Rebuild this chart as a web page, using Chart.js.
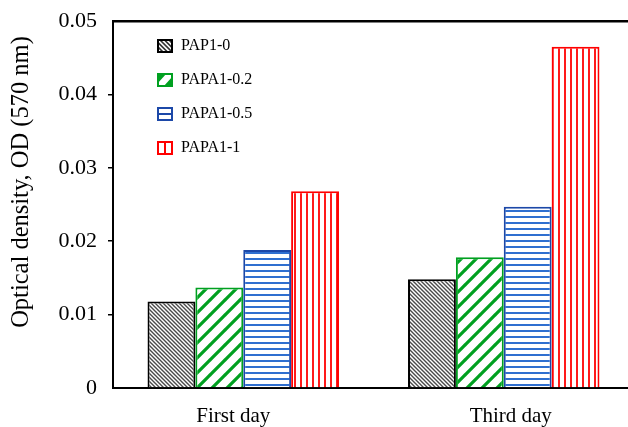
<!DOCTYPE html>
<html>
<head>
<meta charset="utf-8">
<script src="https://cdn.jsdelivr.net/npm/chart.js@4.4.1/dist/chart.umd.min.js"></script>
<style>
  html, body { margin: 0; padding: 0; background: #fff; overflow: hidden; width: 628px; height: 427px; }
  #wrap { position: relative; width: 634px; height: 427px; }
</style>
</head>
<body>
<div id="wrap"><canvas id="chart" width="634" height="427"></canvas></div>
<script>
// Optical density at 570 nm for each sample, per day
const categories = ['First day', 'Third day'];
const seriesNames = ['PAP1-0', 'PAPA1-0.2', 'PAPA1-0.5', 'PAPA1-1'];
const pap1_0   = [0.0118, 0.0148];
const papa1_02 = [0.0137, 0.0178];
const papa1_05 = [0.0188, 0.0247];
const papa1_1  = [0.0268, 0.0465];
const yTickLabels = ['0', '0.01', '0.02', '0.03', '0.04', '0.05'];
const yTitle = 'Optical density, OD (570 nm)';

const SERIF = '"Liberation Serif", "Times New Roman", serif';

// ---- hatch patterns ----
function tile(w, h, paint) {
  const c = document.createElement('canvas');
  c.width = w; c.height = h;
  const g = c.getContext('2d');
  g.fillStyle = '#fff';
  g.fillRect(0, 0, w, h);
  paint(g, w, h);
  return c;
}
function diagLines(g, s, color, lw, dir) {
  g.strokeStyle = color; g.lineWidth = lw; g.lineCap = 'square';
  g.beginPath();
  for (const off of [-s, 0, s]) {
    if (dir === 'back') { g.moveTo(off, 0); g.lineTo(off + s, s); }
    else { g.moveTo(off, s); g.lineTo(off + s, 0); }
  }
  g.stroke();
}
const tiles = [
  tile(4, 4, (g, w) => diagLines(g, w, '#4a4a4a', 1.4, 'back')),
  tile(15, 15, (g, w) => diagLines(g, w, '#00a020', 3.2, 'fwd')),
  tile(6, 6, (g, w) => { g.fillStyle = '#2f6fd0'; g.fillRect(0, 0, w, 2); }),
  tile(6, 6, (g, w, h) => { g.fillStyle = '#ff1a1a'; g.fillRect(0, 0, 2, h); })
];
const probe = document.createElement('canvas').getContext('2d');
const fills = tiles.map(t => probe.createPattern(t, 'repeat'));

const borders = ['#000000', '#00a020', '#1c48a8', '#ff0000'];

// ---- legend swatches ----
function swatch(i) {
  const w = 16, h = 14;
  const c = document.createElement('canvas');
  c.width = w; c.height = h;
  const g = c.getContext('2d');
  g.fillStyle = '#fff';
  g.fillRect(0, 0, w, h);
  if (i === 0) {
    g.strokeStyle = '#333'; g.lineWidth = 1.6; g.beginPath();
    for (let o = -16; o <= 16; o += 4.5) { g.moveTo(o, 0); g.lineTo(o + h, h); }
    g.stroke();
  } else if (i === 1) {
    g.fillStyle = '#00a020';
    g.beginPath(); g.moveTo(0, 0); g.lineTo(10, 0); g.lineTo(0, 11); g.closePath(); g.fill();
    g.beginPath(); g.moveTo(w, h); g.lineTo(6, h); g.lineTo(w, 3); g.closePath(); g.fill();
  } else if (i === 2) {
    g.fillStyle = '#1c48a8'; g.fillRect(0, 6, w, 2);
  } else {
    g.fillStyle = '#ff0000'; g.fillRect(7, 0, 2, h);
  }
  g.strokeStyle = borders[i]; g.lineWidth = 2;
  g.strokeRect(1, 1, w - 2, h - 2);
  return c;
}
const swatches = [0, 1, 2, 3].map(swatch);

// place the legend column inside the plot, near its top-left corner
const legendNudge = {
  id: 'legendNudge',
  afterLayout(chart) {
    const l = chart.legend, a = chart.chartArea;
    if (l) { l.left = a.left + 26; l.top = a.top - 1; l.bottom = a.bottom; }
  }
};

// rotated y-axis title and the day labels under each group
const labelShift = [-10, 7];
const axisText = {
  id: 'axisText',
  afterDraw(chart) {
    const g = chart.ctx;
    g.save();
    g.fillStyle = '#000';
    g.font = '21px ' + SERIF;
    g.textAlign = 'center';
    g.textBaseline = 'alphabetic';
    const xs = chart.scales.x;
    categories.forEach((name, i) => {
      g.fillText(name, xs.getPixelForTick(i) + labelShift[i], xs.top + 34);
    });
    g.translate(22, 182);
    g.rotate(-Math.PI / 2);
    g.font = '24.5px ' + SERIF;
    g.textBaseline = 'middle';
    g.fillText(yTitle, 0, 0);
    g.restore();
  }
};

const seriesData = [pap1_0, papa1_02, papa1_05, papa1_1];

new Chart(document.getElementById('chart'), {
  type: 'bar',
  data: {
    labels: categories,
    datasets: seriesNames.map((name, i) => ({
      label: name,
      data: seriesData[i],
      backgroundColor: fills[i],
      borderColor: borders[i],
      borderWidth: 2
    }))
  },
  options: {
    responsive: false,
    animation: false,
    devicePixelRatio: 1,
    layout: { padding: 0 },
    datasets: { bar: { categoryPercentage: 0.735, barPercentage: 1 } },
    scales: {
      x: {
        z: 1,
        grid: { display: false, drawTicks: false },
        border: { display: true, color: '#000', width: 2 },
        ticks: { display: false },
        afterFit(s) { s.height = 39; }
      },
      xTop: {
        axis: 'x',
        type: 'category',
        position: 'top',
        grid: { display: false, drawTicks: false },
        ticks: { display: false },
        border: { display: true, color: '#000', width: 2.5 },
        afterFit(s) { s.height = 21; }
      },
      y: {
        min: 0,
        max: 0.05,
        grid: {
          display: true,
          drawOnChartArea: false,
          drawTicks: true,
          tickLength: 5,
          lineWidth: 1.5,
          color: c => (c.index === 0 || c.index === yTickLabels.length - 1) ? 'rgba(0,0,0,0)' : '#000'
        },
        border: { display: true, color: '#000', width: 2 },
        ticks: {
          stepSize: 0.01,
          color: '#000',
          padding: 11,
          font: { family: SERIF, size: 22 },
          callback: (v, i) => yTickLabels[i]
        },
        afterFit(s) { s.width = 113; s.paddingTop = 0; s.paddingBottom = 0; }
      }
    },
    plugins: {
      tooltip: { enabled: false },
      legend: {
        position: 'chartArea',
        align: 'start',
        labels: {
          usePointStyle: true,
          boxWidth: 16,
          boxHeight: 16,
          padding: 18,
          color: '#000',
          font: { family: SERIF, size: 16 },
          generateLabels(chart) {
            return chart.data.datasets.map((ds, i) => ({
              text: ds.label,
              pointStyle: swatches[i],
              fillStyle: '#fff',
              strokeStyle: borders[i],
              lineWidth: 0,
              hidden: false,
              datasetIndex: i,
              fontColor: '#000'
            }));
          }
        }
      }
    }
  },
  plugins: [legendNudge, axisText]
});
</script>
</body>
</html>
